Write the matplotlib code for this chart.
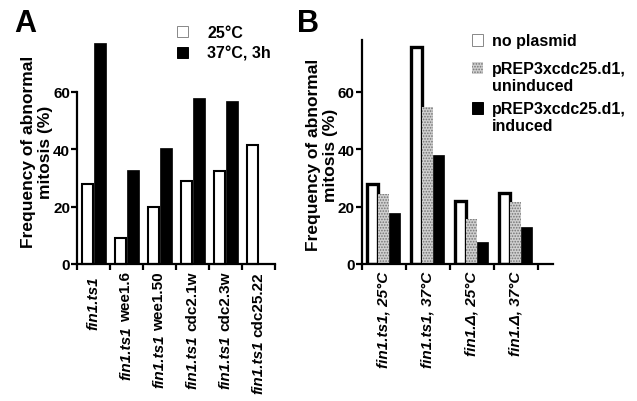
import numpy as np
import matplotlib as mpl
mpl.use("Agg")
from matplotlib import pyplot as plt
from matplotlib.patches import Rectangle

# panel A
background = "fin1.ts1"
alleles_a = ["", "wee1.6", "wee1.50", "cdc2.1w", "cdc2.3w", "cdc25.22"]
temp25 = [28, 9, 20, 29, 32.5, 41.3]
temp37 = [77, 32.7, 40.5, 57.6, 56.7, np.nan]
legend_a = ["25°C", "37°C, 3h"]

# panel B
cond_b = ["fin1.ts1, 25°C", "fin1.ts1, 37°C", "fin1.Δ, 25°C", "fin1.Δ, 37°C"]
no_plasmid = [28, 75.6, 22, 24.7]
uninduced = [24.3, 54.5, 15.5, 21.5]
induced = [17.6, 37.9, 7.7, 12.8]
legend_b = ["no plasmid", "pREP3xcdc25.d1,\nuninduced", "pREP3xcdc25.d1,\ninduced"]

yticks = [0, 20, 40, 60]

mpl.rcParams["font.family"] = "Liberation Sans"
mpl.rcParams["font.weight"] = "bold"
mpl.rcParams["hatch.linewidth"] = 0.8
mpl.rcParams["axes.linewidth"] = 1.6

STIP_FC = "#d0d0d0"
STIP_EC = "#747474"
FS = 11

W, H = 637, 402
fig = plt.figure(figsize=(W / 100, H / 100), dpi=100)


def fx(px):
    return px / W


def fy(py):
    return 1 - py / H


def style_axis(ax, xmax, labels, top_bound, italic):
    ax.set_ylim(0, 78)
    ax.set_xlim(0, xmax)
    ax.spines["top"].set_visible(False)
    ax.spines["right"].set_visible(False)
    ax.spines["left"].set_bounds(0, top_bound)
    ax.spines["bottom"].set_bounds(0, xmax)
    ax.set_yticks(yticks)
    ax.set_yticklabels([str(t) for t in yticks], fontsize=11, fontweight="bold")
    n = len(labels)
    ax.set_xticks(np.arange(n + 1))
    ax.set_xticklabels([])
    ax.set_xticks(np.arange(n) + 0.5, minor=True)
    ax.set_xticklabels(labels, minor=True, rotation=90, fontsize=FS,
                       fontweight="bold", fontstyle="italic" if italic else "normal",
                       va="top", ha="center")
    ax.tick_params(axis="x", which="minor", length=0, pad=5)
    ax.tick_params(axis="x", which="major", length=4, width=1.6, direction="out")
    ax.tick_params(axis="y", length=4, width=1.6, pad=1)


# ---- panel A
axA = fig.add_axes([fx(77), 1 - 265 / H, 198 / W, (265 - 40.75) / H])
xa = np.arange(len(alleles_a))
axA.bar(xa + 0.33, temp25, width=0.33, facecolor="white", edgecolor="black",
        linewidth=1.5, clip_on=False)
axA.bar(xa + 0.69, temp37, width=0.36, facecolor="black", edgecolor="black",
        linewidth=0.5, clip_on=False)
style_axis(axA, 6, alleles_a, 60, False)
fig.text(fx(37), fy(152), "Frequency of abnormal\nmitosis (%)", rotation=90,
         ha="center", va="center", fontsize=12.5, fontweight="bold",
         linespacing=1.2)

# ---- panel B
axB = fig.add_axes([fx(361.7), 1 - 265 / H, 191.3 / W, (265 - 40.75) / H])
xb = np.arange(len(cond_b))
axB.bar(xb + 0.25, no_plasmid, width=0.25, facecolor="white", edgecolor="black",
        linewidth=2.4)
axB.bar(xb + 0.5, uninduced, width=0.24, facecolor=STIP_FC, edgecolor=STIP_EC,
        hatch="......", linewidth=0.0)
axB.bar(xb + 0.75, induced, width=0.25, facecolor="black", edgecolor="black",
        linewidth=0.5)
style_axis(axB, 4.35, cond_b, 78, True)
fig.text(fx(322), fy(155), "Frequency of abnormal\nmitosis (%)", rotation=90,
         ha="center", va="center", fontsize=12.5, fontweight="bold",
         linespacing=1.2)

# italic background strain below the allele names in panel A
fig.canvas.draw()
renderer = fig.canvas.get_renderer()
inv = fig.transFigure.inverted()
for lab in axA.get_xticklabels(minor=True):
    ext = lab.get_window_extent(renderer)
    xc = (ext.x0 + ext.x1) / 2
    if lab.get_text():
        ytop = ext.y0 - 4
    else:
        ytop = axA.transAxes.transform((0, 0))[1] - 4 - 5 * 100 / 72
    fxy = inv.transform((xc, ytop))
    fig.text(fxy[0], fxy[1], background, rotation=90, ha="center", va="top",
             fontsize=FS, fontweight="bold", fontstyle="italic")

# panel letters
fig.text(fx(14), fy(32), "A", fontsize=22, fontweight="bold")
fig.text(fx(297), fy(32), "B", fontsize=22, fontweight="bold")

# legend A
for i, (lab, fc, ec) in enumerate(zip(legend_a, ["white", "black"], ["#888888", "black"])):
    y0 = 27 + i * 21
    fig.patches.append(Rectangle((fx(177), fy(y0 + 11)), 11 / W, 11 / H,
                                 transform=fig.transFigure, facecolor=fc,
                                 edgecolor=ec, linewidth=0.7))
    fig.text(fx(207), fy(y0 + 6), lab, fontsize=11.5, fontweight="bold",
             va="center", ha="left")

# legend B
leg_y = [35, 63, 103]
leg_style = [("white", "#888888", None), (STIP_FC, STIP_EC, "......"),
             ("black", "black", None)]
for y0, lab, (fc, ec, hatch) in zip(leg_y, legend_b, leg_style):
    fig.patches.append(Rectangle((fx(471.7), fy(y0 + 11.5)), 11.5 / W, 11.5 / H,
                                 transform=fig.transFigure, facecolor=fc,
                                 edgecolor=ec, hatch=hatch,
                                 linewidth=0.7 if hatch is None else 0))
    fig.text(fx(491.7), fy(y0 - 1), lab, fontsize=11.5, fontweight="bold",
             va="top", ha="left", linespacing=1.2)

fig.savefig("out.png", dpi=100)
